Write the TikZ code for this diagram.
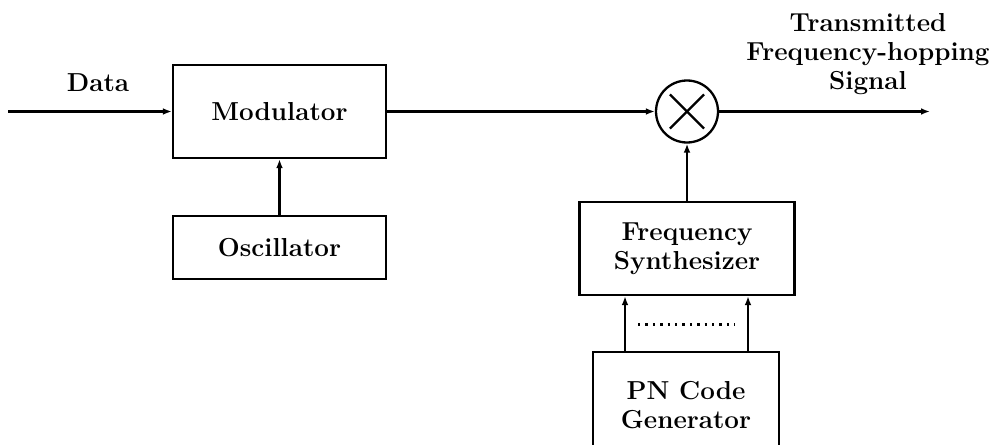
\documentclass[tikz,border=0pt]{standalone}
\usetikzlibrary{arrows.meta,calc}
\begin{document}
\begin{tikzpicture}[x=0.5pt,y=-0.5pt,
  line width=1.15pt,
  every node/.style={font=\fontsize{13}{14.5}\selectfont\bfseries},
  blk/.style={draw,rectangle,inner sep=0pt,align=center},
  arr/.style={-{Latex[length=4.5pt,width=3.4pt]}},
  lbl/.style={inner sep=0pt,align=center}]
\path[use as bounding box,clip] (0,0) rectangle (994,444);
\node[blk,minimum width=106.5pt,minimum height=46.5pt] (mod) at (279.5,111.5) {Modulator};
\node[blk,minimum width=106.5pt,minimum height=31.5pt] (osc) at (279.5,247.5) {Oscillator};
\node[draw,circle,minimum size=31pt,inner sep=0pt] (mix) at (687,111.5) {};
\draw ($(mix.center)!0.75!(mix.45)$) -- ($(mix.center)!0.75!(mix.225)$);
\draw ($(mix.center)!0.75!(mix.135)$) -- ($(mix.center)!0.75!(mix.315)$);
\node[blk,minimum width=107.5pt,minimum height=46.5pt] (syn) at (687,248.5) {Frequency\\Synthesizer};
\node[lbl,draw=none,minimum width=92pt,minimum height=52pt] (pn) at (686,405) {PN Code\\Generator};
\draw (pn.south west) -- (pn.north west) -- (pn.north east) -- (pn.south east);
\coordinate (in) at (8,111.5);
\coordinate (out) at (930,111.5);
\node[lbl] (data) at (98,83) {Data};
\node[lbl] (tx) at (868,54) {Transmitted\\Frequency-hopping\\Signal};
\draw[arr] (in) -- (mod.west);
\draw[arr] (osc.north) -- (mod.south);
\draw[arr] (mod.east) -- (mix.west);
\draw[arr] (syn.north) -- (mix.south);
\draw[arr] (mix.east) -- (out);
\draw[arr] ([xshift=-30.5pt]pn.north) -- ([xshift=-30.5pt]pn.north |- syn.south);
\draw[arr] ([xshift=31pt]pn.north) -- ([xshift=31pt]pn.north |- syn.south);
\draw[line width=1.6pt,dash pattern=on 1.2pt off 2.5pt] ($(syn.south)+(-49,28)$) -- ($(syn.south)+(48,28)$);
\end{tikzpicture}
\end{document}
